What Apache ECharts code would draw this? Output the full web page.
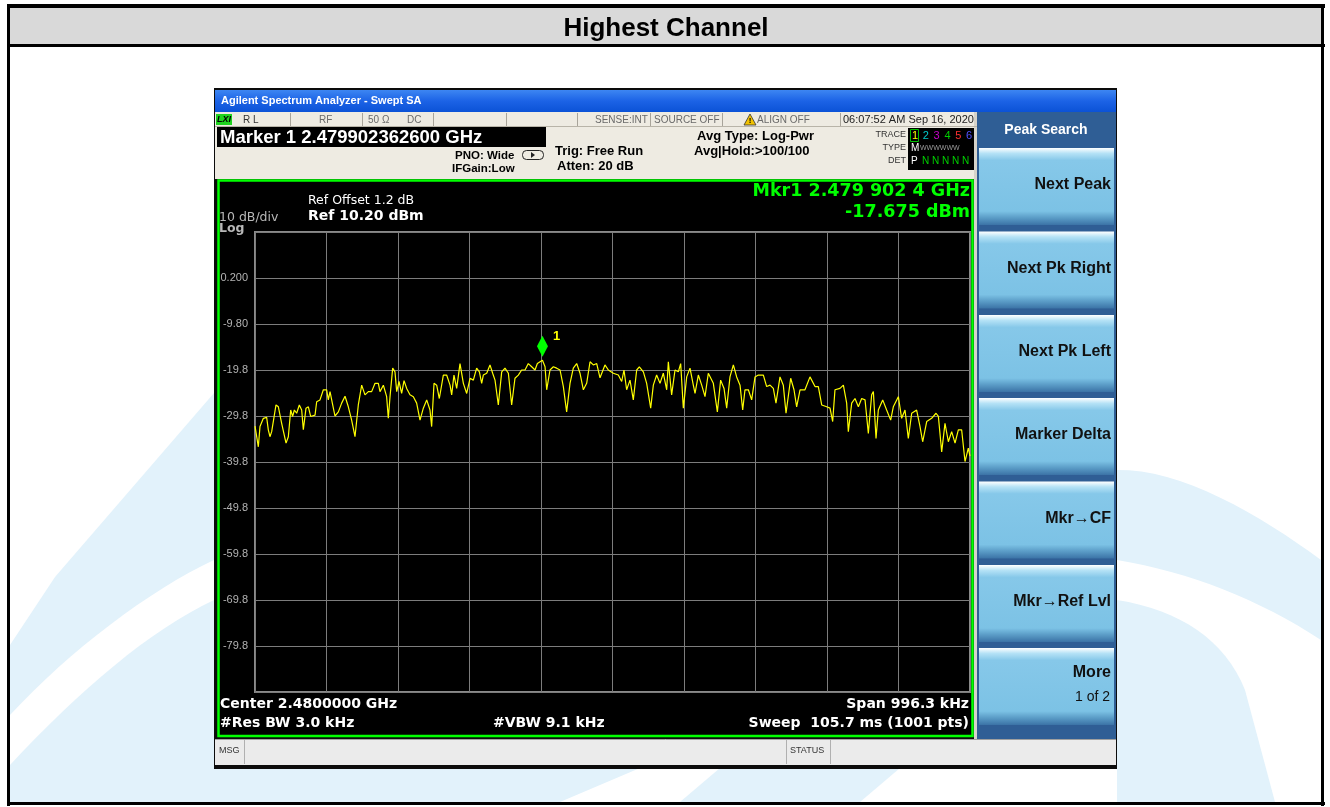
<!DOCTYPE html>
<html><head><meta charset="utf-8">
<script src="https://cdn.jsdelivr.net/npm/echarts@6/dist/echarts.min.js"></script>
<style>html,body{margin:0;padding:0;background:#fff}#c{width:1330px;height:807px}</style>
</head><body><div id="c"></div>
<script>
// ---- data (frequency offset from centre in kHz, level in dBm) ----
const centerGHz = 2.48;
const spanKHz = 996.3;
const refLevelDbm = 10.2;
const dbPerDiv = 10;
const freqOffsetKHz = [
 -498.15,-493.5,-491.2,-486.5,-481.9,-479.6,-477.3,-474.9,-472.6,-468.9,
 -465.6,-461.0,-454.9,-451.7,-448.4,-445.7,-443.3,-440.1,-436.4,-433.1,
 -430.8,-427.1,-423.8,-420.6,-414.5,-412.2,-407.6,-402.9,-398.3,-396.0,
 -393.6,-389.9,-386.7,-382.0,-377.4,-372.7,-368.1,-363.5,-358.8,-354.2,
 -349.5,-344.9,-340.2,-335.6,-330.9,-326.3,-324.0,-319.3,-314.7,-312.4,
 -310.0,-306.3,-303.1,-300.7,-297.5,-293.8,-290.5,-286.8,-282.2,-277.5,
 -272.9,-268.2,-263.6,-258.9,-254.3,-252.0,-248.7,-245.0,-241.3,-235.7,
 -231.1,-226.4,-224.1,-220.9,-217.1,-212.5,-210.2,-207.8,-203.2,-198.5,
 -193.9,-189.3,-185.5,-182.3,-180.0,-175.3,-170.7,-167.0,-163.7,-159.1,
 -154.4,-149.8,-145.1,-140.5,-135.9,-131.2,-126.6,-121.9,-117.3,-112.6,
 -108.0,-104.7,-97.6,-94.0,-91.7,-87.1,-82.4,-77.8,-73.1,-68.5,
 -63.9,-59.2,-54.6,-49.9,-45.3,-40.6,-36.0,-31.3,-26.7,-22.0,
 -17.4,-10.5,-5.8,1.2,8.1,12.8,16.0,19.7,24.4,29.0,
 33.7,37.4,43.0,47.6,53.2,56.9,61.5,66.2,70.8,75.5,
 77.8,80.1,82.4,87.1,91.7,95.0,98.7,103.4,108.0,112.6,
 115.0,119.6,124.3,128.9,133.5,140.5,146.1,150.7,155.4,159.1,
 163.7,168.4,173.0,177.7,181.4,184.6,189.3,193.9,198.6,203.2,
 210.2,214.8,219.5,224.1,227.8,233.4,238.0,241.8,248.3,252.9,
 256.6,261.3,268.2,275.2,282.2,286.8,291.5,298.4,303.1,306.8,
 310.0,317.0,321.7,326.3,328.6,333.3,337.9,342.6,347.2,351.9,
 356.5,361.1,363.5,367.2,370.4,376.5,382.0,387.6,391.3,398.3,
 402.9,407.6,412.2,416.9,423.8,428.5,432.2,437.8,444.7,450.8,
 454.1,458.7,463.3,468.0,472.6,477.3,481.9,486.5,491.2,495.8,
 498.15
];
const levelDbm = [
 -32.0,-36.5,-32.1,-30.3,-30.1,-32.8,-34.3,-33.2,-33.6,-27.4,
 -27.8,-31.4,-35.7,-34.3,-28.5,-29.9,-28.5,-29.2,-27.4,-28.5,
 -32.8,-28.1,-27.8,-29.9,-29.6,-26.7,-26.3,-24.1,-24.1,-26.3,
 -24.5,-27.4,-29.8,-28.9,-27.0,-25.5,-27.8,-30.7,-34.3,-27.4,
 -23.1,-25.2,-24.5,-24.5,-22.7,-22.7,-24.5,-23.1,-25.6,-30.3,
 -25.6,-19.4,-20.2,-24.5,-22.3,-24.9,-22.1,-23.8,-25.2,-25.6,
 -27.0,-30.7,-28.1,-26.3,-28.5,-32.1,-22.7,-23.1,-26.0,-20.9,
 -20.9,-23.1,-25.2,-20.9,-23.8,-18.4,-18.7,-22.7,-24.9,-21.6,
 -22.0,-19.4,-20.2,-22.7,-20.9,-20.5,-18.7,-20.5,-22.0,-27.4,
 -20.2,-19.4,-20.5,-27.4,-21.6,-20.9,-19.8,-19.8,-18.4,-19.1,
 -19.8,-18.4,-17.675,-19.1,-24.1,-19.8,-19.1,-19.4,-19.8,-23.4,
 -28.9,-22.7,-19.4,-18.4,-20.5,-24.1,-22.7,-18.0,-18.7,-18.4,
 -21.5,-18.7,-19.8,-20.5,-20.9,-22.3,-19.8,-24.1,-22.0,-26.3,
 -19.8,-19.1,-20.2,-22.7,-28.1,-23.1,-20.9,-22.7,-20.5,-24.1,
 -18.0,-18.4,-25.2,-19.8,-20.2,-18.4,-28.1,-21.3,-19.4,-23.1,
 -24.9,-20.9,-23.1,-25.6,-20.5,-22.7,-28.9,-22.0,-23.8,-28.1,
 -21.3,-18.7,-21.3,-23.1,-28.5,-24.1,-24.1,-26.3,-21.3,-20.9,
 -20.9,-23.4,-23.1,-23.8,-27.0,-21.3,-23.1,-29.2,-21.6,-24.1,
 -27.8,-24.1,-24.1,-21.3,-23.4,-23.4,-27.4,-27.8,-28.1,-31.0,
 -24.1,-23.8,-23.1,-27.0,-33.2,-27.0,-26.0,-27.8,-26.0,-26.3,
 -33.6,-25.2,-24.5,-34.7,-28.5,-26.3,-28.5,-30.7,-27.8,-25.6,
 -30.3,-28.5,-34.7,-29.2,-28.5,-32.1,-35.4,-31.0,-30.3,-29.2,
 -29.9,-37.6,-31.4,-35.4,-33.2,-35.7,-32.8,-32.8,-39.7,-36.8,
 -38.5
];
const markerFreqKHz = -97.6;
const markerLevelDbm = -17.675;
const yTickValues = [0.2, -9.8, -19.8, -29.8, -39.8, -49.8, -59.8, -69.8, -79.8];
const yTickLabels = ['0.200', '-9.80', '-19.8', '-29.8', '-39.8', '-49.8', '-59.8', '-69.8', '-79.8'];
const softkeyLabels = ['Next Peak', 'Next Pk Right', 'Next Pk Left', 'Marker Delta', 'Mkr\u2192CF', 'Mkr\u2192Ref Lvl', 'More'];

// ---- drawing ----
const F = "'Liberation Sans', Arial, sans-serif";
const D = "'DejaVu Sans', Verdana, sans-serif";
function R(x, y, w, h, fill, extra) {
  return Object.assign({type: 'rect', silent: true, z: -5, shape: {x, y, width: w, height: h}, style: {fill}}, extra || {});
}
function T(x, y, text, st) {
  return {type: 'text', x, y, z: 50, silent: true,
    style: Object.assign({text, fill: '#000', font: '12px ' + F, textAlign: 'left', textVerticalAlign: 'middle'}, st || {})};
}
function L(x1, y1, x2, y2, stroke, w, z) {
  return {type: 'line', silent: true, z: z == null ? -3 : z, shape: {x1, y1, x2, y2}, style: {stroke, lineWidth: w || 1}};
}
// decorative shape: sequence of segments; each seg is [x,y] (line) or [c1x,c1y,c2x,c2y,x,y] (cubic)
function S(segs, fill) {
  const pts = [[segs[0][0], segs[0][1]]];
  for (let i = 1; i < segs.length; i++) {
    const s = segs[i];
    if (s.length === 2) { pts.push(s); continue; }
    const p0 = pts[pts.length - 1];
    for (let k = 1; k <= 16; k++) {
      const t = k / 16, u = 1 - t;
      pts.push([u*u*u*p0[0] + 3*u*u*t*s[0] + 3*u*t*t*s[2] + t*t*t*s[4],
                u*u*u*p0[1] + 3*u*u*t*s[1] + 3*u*t*t*s[3] + t*t*t*s[5]]);
    }
  }
  return {type: 'polygon', silent: true, z: -9, shape: {points: pts}, style: {fill}};
}

const wm = '#e2f2fb';
const g = [];
// watermark
g.push(S([[10, 645], [55, 577], [214, 393], [214, 560], [150, 590, 70, 650, 10, 715]], wm));
g.push(S([[10, 765], [80, 690, 150, 630, 214, 600], [214, 802], [10, 802]], wm));
g.push(S([[214, 768], [640, 768], [560, 802], [214, 802]], wm));
g.push(S([[720, 768], [900, 768], [860, 802], [680, 802]], wm));
g.push(S([[1117, 470], [1180, 468, 1260, 515, 1321, 560], [1321, 640], [1260, 600, 1190, 572, 1117, 560]], wm));
g.push(S([[1117, 600], [1180, 610, 1225, 640, 1245, 690], [1275, 802], [1117, 802]], wm));
// page frame & header
g.push(R(10, 8, 1311, 37, '#d9d9d9'));
g.push(R(7, 4, 1318, 4, '#000'));
g.push(R(7, 4, 3, 802, '#000'));
g.push(R(1321, 4, 3, 802, '#000'));
g.push(R(7, 802, 1318, 3, '#000'));
g.push(R(7, 44, 1318, 3, '#000'));
g.push(T(666, 29, 'Highest Channel', {font: 'bold 26px ' + F, textAlign: 'center'}));
// instrument screenshot frame
g.push(R(214, 88, 903, 681, '#0c0c0c'));
g.push(R(215, 90, 901, 22, new echarts.graphic.LinearGradient(0, 0, 0, 1, [{offset: 0, color: '#3d86f2'}, {offset: 0.5, color: '#1c63e6'}, {offset: 1, color: '#0b52d6'}])));
g.push(T(221, 101, 'Agilent Spectrum Analyzer - Swept SA', {fill: '#fff', font: 'bold 11px ' + F}));
g.push(R(215, 112, 762, 67, '#eeebe2'));
g.push(L(215, 126.5, 977, 126.5, '#b8b4a8', 1));
g.push(R(216, 114, 16, 11, '#1ed21e'));
g.push(T(217, 119.5, 'LXI', {font: 'italic bold 9px ' + F}));
[290, 362, 433, 506, 577, 650, 722, 840].forEach(x => g.push(L(x + 0.5, 113, x + 0.5, 126, '#a8a49a', 1)));
const st = {fill: '#6a6a6a', font: '10px ' + F};
g.push(T(243, 120, 'R L', Object.assign({}, st, {fill: '#333'})));
g.push(T(319, 120, 'RF', st));
g.push(T(368, 120, '50 \u03a9', st));
g.push(T(407, 120, 'DC', st));
g.push(T(595, 120, 'SENSE:INT', st));
g.push(T(654, 120, 'SOURCE OFF', st));
g.push({type: 'polygon', silent: true, z: 40, shape: {points: [[750, 114], [744, 125], [756, 125]]}, style: {fill: '#f2c200', stroke: '#333', lineWidth: 0.8}});
g.push(T(750, 121, '!', {font: 'bold 8px ' + F, textAlign: 'center'}));
g.push(T(757, 120, 'ALIGN OFF', st));
g.push(T(843, 120, '06:07:52 AM Sep 16, 2020', {fill: '#222', font: '11px ' + F}));
g.push(R(217, 127, 329, 20, '#000'));
g.push(T(220, 138, 'Marker 1 2.479902362600 GHz', {fill: '#fff', font: 'bold 18.5px ' + F}));
g.push(T(455, 156, 'PNO: Wide', {font: 'bold 11.5px ' + F}));
g.push(T(452, 169, 'IFGain:Low', {font: 'bold 11.5px ' + F}));
g.push({type: 'rect', silent: true, z: 40, shape: {x: 522.5, y: 150.5, width: 21, height: 9, r: 4}, style: {fill: 'none', stroke: '#222', lineWidth: 1}});
g.push({type: 'polygon', silent: true, z: 41, shape: {points: [[531, 152], [531, 158], [535, 155]]}, style: {fill: '#222'}});
g.push(T(555, 151, 'Trig: Free Run', {font: 'bold 13px ' + F}));
g.push(T(557, 166, 'Atten: 20 dB', {font: 'bold 13px ' + F}));
g.push(T(697, 136, 'Avg Type: Log-Pwr', {font: 'bold 13px ' + F}));
g.push(T(694, 151, 'Avg|Hold:>100/100', {font: 'bold 13px ' + F}));
g.push(T(906, 135, 'TRACE', {font: '9px ' + F, textAlign: 'right', fill: '#333'}));
g.push(T(906, 148, 'TYPE', {font: '9px ' + F, textAlign: 'right', fill: '#333'}));
g.push(T(906, 161, 'DET', {font: '9px ' + F, textAlign: 'right', fill: '#333'}));
g.push(R(908, 128, 67, 42, '#000'));
g.push({type: 'rect', silent: true, z: 40, shape: {x: 910.5, y: 129.5, width: 8, height: 12}, style: {fill: 'none', stroke: '#00c000', lineWidth: 1}});
const trColors = ['#ffff00', '#00c8c8', '#c800c8', '#00d000', '#ff3030', '#5050ff'];
trColors.forEach((c, i) => g.push(T(912 + i * 10.8, 136, String(i + 1), {fill: c, font: '11px ' + F})));
g.push(T(911, 148, 'M', {fill: '#fff', font: '10px ' + F}));
g.push(T(920, 148, 'WWWWWW', {fill: '#9a9a9a', font: '7px ' + F}));
g.push(T(911, 161, 'P', {fill: '#fff', font: '10px ' + F}));
g.push(T(922, 161, 'N N N N N', {fill: '#00d000', font: '10px ' + F}));
// plot panel
g.push({type: 'rect', silent: true, z: -5, shape: {x: 218.5, y: 180.5, width: 754, height: 555.5}, style: {fill: '#000', stroke: '#00ff00', lineWidth: 2.5}});
g.push(R(974, 112, 3, 627, '#d6d3ca'));
g.push(T(308, 201, 'Ref Offset 1.2 dB', {fill: '#fff', font: '12.5px ' + D}));
g.push(T(308, 216, 'Ref 10.20 dBm', {fill: '#fff', font: 'bold 14px ' + D}));
g.push(T(219, 218, '10 dB/div', {fill: '#b8b8b8', font: '12.5px ' + D}));
g.push(T(219, 229, 'Log', {fill: '#b8b8b8', font: 'bold 12.5px ' + D}));
g.push(T(970, 191, 'Mkr1 2.479 902 4 GHz', {fill: '#00ff00', font: 'bold 17.5px ' + D, textAlign: 'right'}));
g.push(T(970, 212, '-17.675 dBm', {fill: '#00ff00', font: 'bold 17.5px ' + D, textAlign: 'right'}));
g.push(T(220, 704, 'Center 2.4800000 GHz', {fill: '#fff', font: 'bold 14px ' + D}));
g.push(T(220, 723, '#Res BW 3.0 kHz', {fill: '#fff', font: 'bold 14px ' + D}));
g.push(T(493, 723, '#VBW 9.1 kHz', {fill: '#fff', font: 'bold 14px ' + D}));
g.push(T(969, 704, 'Span 996.3 kHz', {fill: '#fff', font: 'bold 14px ' + D, textAlign: 'right'}));
g.push(T(969, 723, 'Sweep  105.7 ms (1001 pts)', {fill: '#fff', font: 'bold 14px ' + D, textAlign: 'right'}));
// softkey panel
g.push(R(977, 112, 139, 627, '#2f5e95'));
g.push(T(1046, 130, 'Peak Search', {fill: '#fff', font: 'bold 14px ' + F, textAlign: 'center'}));
const keyTops = [148, 231.5, 315, 398, 481.5, 565, 648];
keyTops.forEach((t, i) => {
  const grad = new echarts.graphic.LinearGradient(0, 0, 0, 1, [
    {offset: 0, color: '#ffffff'}, {offset: 0.07, color: '#b5e2f6'}, {offset: 0.16, color: '#86c8e9'},
    {offset: 0.82, color: '#7cc2e5'}, {offset: 0.9, color: '#5d9fc9'}, {offset: 1, color: '#3b73a6'}]);
  g.push(R(979, t, 135, 77, grad, {z: -4}));
  const cy = i === 6 ? t + 25 : t + 37;
  g.push(T(1111, cy, softkeyLabels[i], {font: 'bold 16px ' + F, textAlign: 'right', fill: '#111'}));
});
g.push(T(1110, 697, '1 of 2', {font: '14px ' + F, textAlign: 'right', fill: '#111'}));
// bottom status bar
g.push(R(215, 739, 901, 26, '#ebebeb'));
g.push(L(215, 739.5, 1116, 739.5, '#a0a0a0', 1));
[244, 786, 830].forEach(x => g.push(L(x + 0.5, 740, x + 0.5, 764, '#b0b0b0', 1)));
g.push(T(219, 751, 'MSG', {font: '9px ' + F, fill: '#333'}));
g.push(T(790, 751, 'STATUS', {font: '9px ' + F, fill: '#333'}));

const chart = echarts.init(document.getElementById('c'), null, {renderer: 'canvas'});
const half = spanKHz / 2;
chart.setOption({
  animation: false,
  backgroundColor: '#fff',
  graphic: {elements: g},
  grid: {left: 255, top: 232, width: 715, height: 460, show: true, borderColor: '#8a8a8a', borderWidth: 2, backgroundColor: 'transparent'},
  xAxis: {
    type: 'value', min: -half, max: half, interval: spanKHz / 10,
    axisLine: {show: false}, axisTick: {show: false}, axisLabel: {show: false},
    splitLine: {show: true, lineStyle: {color: '#7c7c7c', width: 1}}
  },
  yAxis: {
    type: 'value', min: refLevelDbm - 10 * dbPerDiv, max: refLevelDbm, interval: dbPerDiv,
    axisLine: {show: false}, axisTick: {show: false},
    splitLine: {show: true, lineStyle: {color: '#7c7c7c', width: 1}},
    axisLabel: {
      margin: 7, color: '#b4b4b4', fontSize: 11, fontFamily: 'Liberation Sans, Arial, sans-serif',
      formatter: v => { const i = yTickValues.findIndex(t => Math.abs(t - v) < 0.01); return i >= 0 ? yTickLabels[i] : ''; }
    }
  },
  series: [{
    type: 'line', z: 5, showSymbol: false, silent: true,
    data: freqOffsetKHz.map((f, i) => [f, levelDbm[i]]),
    lineStyle: {color: '#ffff00', width: 1.2},
    markPoint: {
      silent: true,
      symbol: 'diamond', symbolSize: [11, 21], symbolOffset: [0, -14],
      itemStyle: {color: '#00ff00'},
      label: {show: true, formatter: '1', position: 'right', offset: [0, -10], color: '#ffff00', fontSize: 13, fontWeight: 'bold'},
      data: [{coord: [markerFreqKHz, markerLevelDbm]}]
    }
  }]
});
</script></body></html>
